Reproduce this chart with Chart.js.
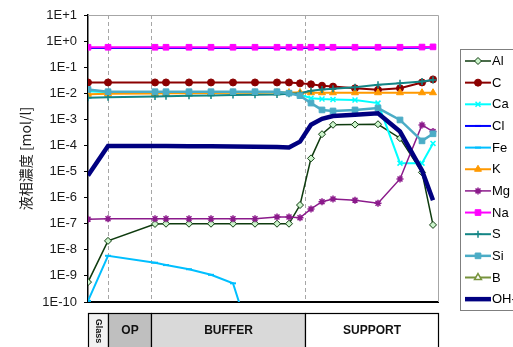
<!DOCTYPE html>
<html>
<head>
<meta charset="utf-8">
<script src="https://cdn.jsdelivr.net/npm/chart.js@4.4.1/dist/chart.umd.min.js"></script>
<style>
  html, body { margin: 0; padding: 0; background: #fff; }
  canvas { display: block; }
</style>
</head>
<body>
<canvas id="c" width="513" height="347"></canvas>
<script>
// Sampling positions across the layers (distance units)
const positions = [0, 2.0, 6.7, 7.8, 10.1, 12.3, 14.5, 16.7, 18.9, 20.1, 21.2, 22.3, 23.4, 24.5, 26.7, 29.0, 31.2, 33.4, 34.5];

// Liquid-phase concentrations [mol/l]
const Al = [5.8e-10, 2.2e-8, 9.8e-8, 1e-7, 1e-7, 1e-7, 1e-7, 1e-7, 1e-7, 1e-7, 5.2e-7, 3.2e-5, 2.7e-4, 6.2e-4, 6.3e-4, 6.5e-4, 1.9e-4, 9.3e-6, 9e-8];
const C  = [0.026, 0.026, 0.026, 0.026, 0.026, 0.026, 0.026, 0.026, 0.026, 0.026, 0.024, 0.022, 0.0195, 0.018, 0.0155, 0.0135, 0.0155, 0.026, 0.034];
const Ca = [0.012, 0.011, 0.011, 0.011, 0.011, 0.011, 0.011, 0.011, 0.011, 0.0105, 0.009, 0.0065, 0.006, 0.0058, 0.0055, 0.0042, 2.1e-5, 2.1e-5, 1.2e-4];
const Cl = [0.54, 0.54, 0.54, 0.54, 0.54, 0.54, 0.54, 0.54, 0.54, 0.54, 0.54, 0.54, 0.54, 0.54, 0.54, 0.54, 0.54, 0.56, 0.57];
const Fe = [1.1e-10, 5.9e-9, 3.2e-9, 2.6e-9, 1.8e-9, 1.1e-9, 5.2e-10, 1.2e-12, null, null, null, null, null, null, null, null, null, null, null];
const K  = [0.0092, 0.0095, 0.0098, 0.01, 0.01, 0.0102, 0.0104, 0.0105, 0.0106, 0.0107, 0.0108, 0.0105, 0.0105, 0.0105, 0.0105, 0.0105, 0.0105, 0.0105, 0.0105];
const Mg = [1.5e-7, 1.55e-7, 1.55e-7, 1.55e-7, 1.55e-7, 1.55e-7, 1.55e-7, 1.55e-7, 1.8e-7, 1.8e-7, 1.7e-7, 3.7e-7, 7e-7, 8.9e-7, 8e-7, 6.1e-7, 5.2e-6, 6.1e-4, 3.4e-4];
const Na = [0.58, 0.58, 0.58, 0.58, 0.58, 0.58, 0.58, 0.58, 0.58, 0.58, 0.58, 0.58, 0.58, 0.58, 0.58, 0.58, 0.58, 0.59, 0.6];
const S  = [0.0068, 0.007, 0.0075, 0.0077, 0.008, 0.0082, 0.0085, 0.0088, 0.009, 0.0095, 0.01, 0.0125, 0.014, 0.015, 0.017, 0.021, 0.024, 0.028, 0.032];
const Si = [0.014, 0.0115, 0.0115, 0.0115, 0.0115, 0.0115, 0.0115, 0.0115, 0.0115, 0.0101, 0.0081, 0.0042, 0.0023, 0.0021, 0.0023, 0.0027, 0.00095, 0.00015, 0.00028];
const B  = [null, null, null, null, null, null, null, null, null, null, null, null, null, null, null, null, null, null, null];
const OH = [7e-6, 9.6e-5, 9.5e-5, 9.5e-5, 9.4e-5, 9.3e-5, 9.2e-5, 9e-5, 8.7e-5, 8.3e-5, 1.4e-4, 6.2e-4, 1.05e-3, 1.35e-3, 1.5e-3, 1.7e-3, 3.4e-4, 1.1e-5, 8e-7];

const seriesLabels = ['Al', 'C', 'Ca', 'Cl', 'Fe', 'K', 'Mg', 'Na', 'S', 'Si', 'B', 'OH-'];
const seriesValues = [Al, C, Ca, Cl, Fe, K, Mg, Na, S, Si, B, OH];

// Y axis ticks
const yTickValues = [1e-10, 1e-9, 1e-8, 1e-7, 1e-6, 1e-5, 1e-4, 1e-3, 1e-2, 1e-1, 1, 10];
const yTickLabels = ['1E-10', '1E-9', '1E-8', '1E-7', '1E-6', '1E-5', '1E-4', '1E-3', '1E-2', '1E-1', '1E+0', '1E+1'];

// Layer zones along the x axis
const zoneNames = ['Glass', 'OP', 'BUFFER', 'SUPPORT'];
const zoneEdges = [0, 2, 6.3, 21.7, 35];

// Series styling
const styles = [
  { color: '#0E3B0E', width: 1.5, point: 'rectRot',  radius: 3.5, fill: '#CCF5CC', pbw: 1 },
  { color: '#8B0000', width: 2,   point: 'circle',   radius: 3.5, fill: '#8B0000', pbw: 1 },
  { color: '#00FFFF', width: 2,   point: 'crossRot', radius: 3.5, fill: '#00FFFF', pbw: 1.5 },
  { color: '#0000FF', width: 2,   point: 'line',     radius: 3,   fill: '#0000FF', pbw: 2 },
  { color: '#00BFFF', width: 2,   point: 'line',     radius: 3,   fill: '#00BFFF', pbw: 2 },
  { color: '#FF9900', width: 2,   point: 'triangle', radius: 4,   fill: '#FF9900', pbw: 1 },
  { color: '#8B1A8B', width: 1.5, point: 'star',     radius: 3.5, fill: '#8B1A8B', pbw: 1.5 },
  { color: '#FF00FF', width: 2,   point: 'rect',     radius: 4,   fill: '#FF00FF', pbw: 1 },
  { color: '#138585', width: 2,   point: 'cross',    radius: 3.5, fill: '#138585', pbw: 1.5 },
  { color: '#4BACC6', width: 2.5, point: 'rect',     radius: 4,   fill: '#4BACC6', pbw: 1 },
  { color: '#77933C', width: 2,   point: 'triangle', radius: 4,   fill: '#FFFFFF', pbw: 1.5 },
  { color: '#000080', width: 4.5, point: false,      radius: 0,   fill: '#000080', pbw: 0 }
];

const N = seriesLabels.length;
const datasets = seriesLabels.map((label, i) => {
  const s = styles[i];
  return {
    label,
    data: positions.map((x, k) => ({ x, y: seriesValues[i][k] })),
    borderColor: s.color,
    backgroundColor: s.fill,
    borderWidth: s.width,
    pointStyle: s.point,
    pointRadius: s.radius,
    pointBorderColor: s.point === 'rectRot' ? s.color : s.color,
    pointBackgroundColor: s.fill,
    pointBorderWidth: s.pbw,
    tension: 0,
    spanGaps: false,
    order: N - i
  };
});

const FONT = "'Liberation Sans', Arial, sans-serif";

// Plot frame, zone boundaries, zone band and legend
const decor = {
  id: 'decor',
  beforeDatasetsDraw(chart) {
    const { ctx, chartArea: a, scales: { x } } = chart;
    ctx.save();
    ctx.strokeStyle = '#A6A6A6';
    ctx.lineWidth = 1;
    ctx.setLineDash([4, 3]);
    zoneEdges.slice(1, -1).forEach(v => {
      const px = Math.round(x.getPixelForValue(v)) + 0.5;
      ctx.beginPath(); ctx.moveTo(px, a.top); ctx.lineTo(px, a.bottom); ctx.stroke();
    });
    ctx.setLineDash([]);
    ctx.strokeStyle = '#A6A6A6';
    ctx.beginPath();
    ctx.moveTo(a.left, Math.round(a.top) + 0.5);
    ctx.lineTo(Math.round(a.right) + 0.5, Math.round(a.top) + 0.5);
    ctx.lineTo(Math.round(a.right) + 0.5, a.bottom);
    ctx.stroke();
    ctx.restore();
  },
  afterDraw(chart) {
    const { ctx, chartArea: a, scales: { x } } = chart;
    ctx.save();
    // zone band under the plot
    const fills = ['#F2F2F2', '#BFBFBF', '#D9D9D9', '#FFFFFF'];
    const top = Math.round(a.bottom) + 11.5;
    const bottom = 360;
    for (let i = 0; i < zoneNames.length; i++) {
      const x0 = Math.round(x.getPixelForValue(zoneEdges[i])) + 0.5;
      const x1 = Math.round(x.getPixelForValue(zoneEdges[i + 1])) + 0.5;
      ctx.fillStyle = fills[i];
      ctx.fillRect(x0, top, x1 - x0, bottom - top);
      ctx.strokeStyle = '#000';
      ctx.lineWidth = 1.2;
      ctx.strokeRect(x0, top, x1 - x0, bottom - top);
      ctx.fillStyle = '#111';
      const cx = (x0 + x1) / 2;
      const cy = 331;
      if (i === 0) {
        ctx.save();
        ctx.translate(cx, cy);
        ctx.rotate(Math.PI / 2);
        ctx.font = 'bold 9px ' + FONT;
        ctx.textAlign = 'center';
        ctx.textBaseline = 'middle';
        ctx.fillText(zoneNames[i], 0, 0);
        ctx.restore();
      } else {
        ctx.font = 'bold 12px ' + FONT;
        ctx.textAlign = 'center';
        ctx.textBaseline = 'middle';
        ctx.fillText(zoneNames[i], cx, cy);
      }
    }

    // legend box
    const lx = 460.5, ly = 49.5, lb = 310.5;
    ctx.fillStyle = '#fff';
    ctx.fillRect(lx, ly, 60, lb - ly);
    ctx.strokeStyle = '#7F7F7F';
    ctx.lineWidth = 1;
    ctx.strokeRect(lx, ly, 80, lb - ly);
    chart.data.datasets.forEach((ds, i) => {
      const y = 61 + i * 21.65;
      ctx.strokeStyle = ds.borderColor;
      ctx.lineWidth = ds.borderWidth;
      ctx.beginPath(); ctx.moveTo(465, y); ctx.lineTo(491, y); ctx.stroke();
      if (ds.pointStyle) {
        ctx.fillStyle = ds.pointBackgroundColor;
        ctx.strokeStyle = ds.pointBorderColor;
        ctx.lineWidth = ds.pointBorderWidth;
        Chart.helpers.drawPoint(ctx, {
          pointStyle: ds.pointStyle,
          radius: ds.pointRadius,
          borderWidth: ds.pointBorderWidth,
          rotation: 0
        }, 478, y);
      }
      ctx.fillStyle = '#000';
      ctx.font = '13px ' + FONT;
      ctx.textAlign = 'left';
      ctx.textBaseline = 'middle';
      ctx.fillText(ds.label, 492, y + 0.5);
    });
    ctx.restore();
  }
};

new Chart(document.getElementById('c'), {
  type: 'line',
  data: { datasets },
  plugins: [decor],
  options: {
    responsive: false,
    animation: false,
    devicePixelRatio: 1,
    layout: { padding: { top: 15, right: 75, bottom: 45, left: 0 } },
    plugins: { legend: { display: false }, tooltip: { enabled: false } },
    scales: {
      x: {
        type: 'linear',
        min: zoneEdges[0],
        max: zoneEdges[zoneEdges.length - 1],
        grid: { display: false },
        ticks: { display: false },
        border: { display: true, color: '#000', width: 2 },
        afterFit(scale) { scale.height = 0; }
      },
      y: {
        type: 'logarithmic',
        min: 1e-10,
        max: 10,
        afterBuildTicks(scale) { scale.ticks = yTickValues.map(v => ({ value: v })); },
        afterFit(scale) { scale.width = 88; },
        ticks: {
          autoSkip: false,
          padding: 7,
          color: '#1a1a1a',
          font: { family: FONT, size: 13 },
          callback(value) {
            const k = yTickValues.findIndex(v => Math.abs(v - value) <= v * 1e-6);
            return k >= 0 ? yTickLabels[k] : '';
          }
        },
        grid: { drawOnChartArea: false, drawTicks: true, tickLength: 4, color: '#000', tickColor: '#000' },
        border: { display: true, color: '#000', width: 1.5 },
        title: {
          display: true,
          text: '液相濃度 [mol/l]',
          color: '#1a1a1a',
          font: { family: "'Noto Sans CJK JP', sans-serif", size: 14 },
          padding: { top: 17, bottom: 0 }
        }
      }
    }
  }
});
</script>
</body>
</html>
